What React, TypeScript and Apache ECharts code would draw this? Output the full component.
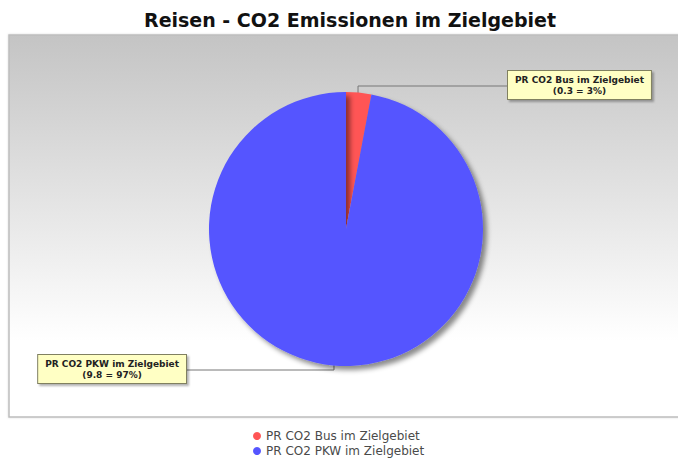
import React, { useEffect, useRef } from "react";
import * as echarts from "echarts";

const titleText = "Reisen - CO2 Emissionen im Zielgebiet";
const categories = ["PR CO2 Bus im Zielgebiet", "PR CO2 PKW im Zielgebiet"];
const values = [0.3, 9.8];
const colors = ["#ff5555", "#5555ff"];

export default function App() {
  const ref = useRef<HTMLDivElement>(null);
  useEffect(() => {
    document.body.style.margin = "0";
    if (!ref.current) return;
    const chart = echarts.init(ref.current, undefined, { renderer: "svg" });
    const total = values.reduce((a, b) => a + b, 0);
    const cx = 346;
    const cy = 229;
    const R = 137;
    chart.setOption({
      animation: false,
      backgroundColor: "#ffffff",
      title: {
        text: titleText,
        left: 345,
        textAlign: "center",
        top: 5,
        textStyle: {
          fontFamily: "DejaVu Sans",
          fontSize: 19,
          fontWeight: "bold",
          color: "#111111",
        },
      },
      graphic: [
        {
          type: "rect",
          z: -10,
          shape: { x: 9, y: 35, width: 680, height: 382 },
          style: {
            fill: new echarts.graphic.LinearGradient(0, 0, 0, 1, [
              { offset: 0, color: "#c4c4c4" },
              { offset: 0.8, color: "#ffffff" },
              { offset: 1, color: "#ffffff" },
            ]),
            stroke: "#bdbdbd",
            lineWidth: 1.5,
            shadowBlur: 2,
            shadowColor: "rgba(0,0,0,0.15)",
          },
        },
      ],
      legend: {
        orient: "vertical",
        left: 253,
        top: 430,
        height: 40,
        padding: 0,
        icon: "circle",
        itemWidth: 8,
        itemHeight: 8,
        itemGap: 3,
        textStyle: { fontSize: 12, color: "#4a4a4a", fontFamily: "DejaVu Sans" },
        data: categories,
      },
      series: [
        {
          type: "pie",
          center: [cx, cy],
          radius: R,
          startAngle: 90,
          clockwise: true,
          color: colors,
          itemStyle: {
            shadowBlur: 5,
            shadowOffsetX: 4,
            shadowOffsetY: 4,
            shadowColor: "rgba(0,0,0,0.45)",
          },
          emphasis: { disabled: true },
          data: categories.map((name, i) => ({ name, value: values[i] })),
          label: {
            show: true,
            formatter: (p: any) =>
              `${p.name}\n(${p.value} = ${Math.round((p.value / total) * 100)}%)`,
            fontSize: 9,
            fontWeight: "bold",
            lineHeight: 11,
            color: "#222222",
            fontFamily: "DejaVu Sans",
            backgroundColor: "#ffffc4",
            borderColor: "#808060",
            borderWidth: 1,
            padding: [3, 7],
            shadowBlur: 2,
            shadowOffsetX: 2,
            shadowOffsetY: 2,
            shadowColor: "rgba(0,0,0,0.3)",
          },
          labelLine: {
            show: true,
            lineStyle: { color: "#777777", width: 1 },
          },
          labelLayout: (params: any) => {
            const i = params.dataIndex;
            const p0 = params.labelLinePoints ? params.labelLinePoints[0] : [cx, cy];
            const w = params.labelRect.width;
            const h = params.labelRect.height;
            const dx = p0[0] - cx;
            const dy = p0[1] - cy;
            const d = Math.sqrt(dx * dx + dy * dy) || 1;
            const inner = [cx + (dx / d) * (R - 8), cy + (dy / d) * (R - 8)];
            if (i === 0) {
              const lx = 507;
              const ly = 86;
              return {
                x: lx + w / 2,
                y: ly - h / 2,
                align: "center",
                verticalAlign: "top",
                labelLinePoints: [inner, [inner[0], ly], [lx, ly]],
              };
            }
            const rx = 187;
            const ly = 370;
            return {
              x: rx - w / 2,
              y: ly - h / 2,
              align: "center",
              verticalAlign: "top",
              labelLinePoints: [inner, [inner[0], ly], [rx, ly]],
            };
          },
        },
      ],
    });
    return () => chart.dispose();
  }, []);
  return <div ref={ref} style={{ width: 678, height: 462 }} />;
}
